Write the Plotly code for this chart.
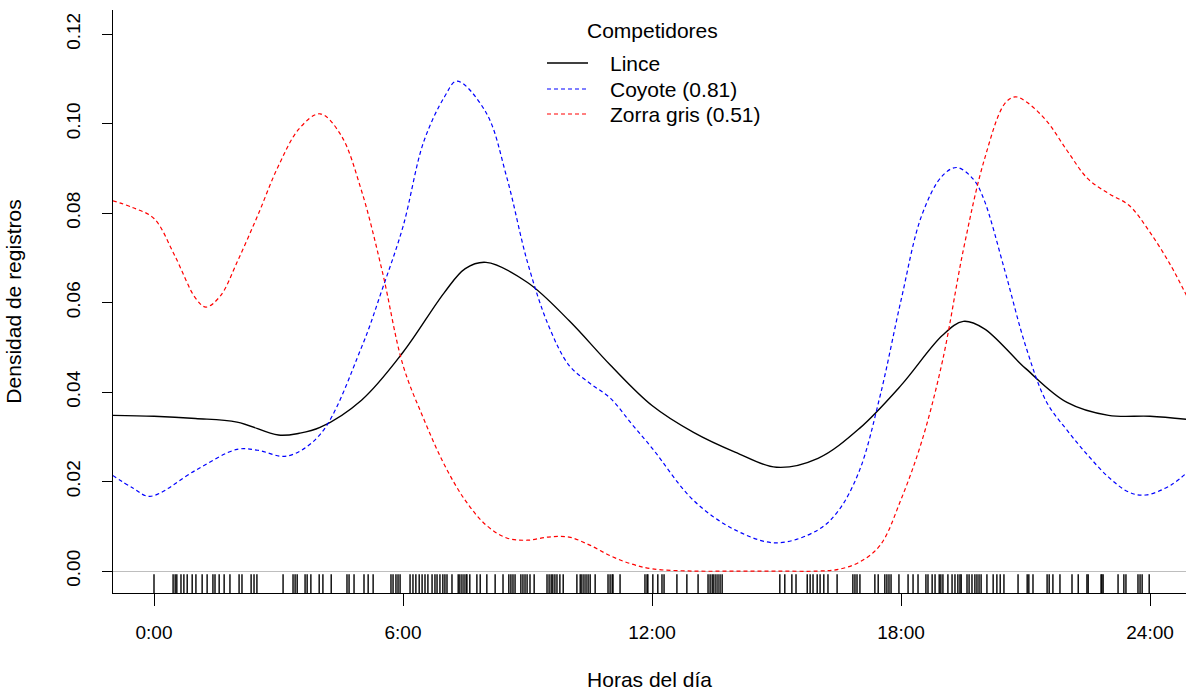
import plotly.graph_objects as go

# ---- data (hours of day, density) ----
hours_lince = [-1, 0, 1, 2, 3, 3.5, 4, 5, 6, 7, 7.5, 8, 9, 10, 11, 12, 13, 14, 15, 16, 17, 18, 19, 19.5, 20, 21, 22, 23, 24, 24.9]
dens_lince = [0.0348, 0.0346, 0.0341, 0.0333, 0.0304, 0.0308, 0.0321, 0.0382, 0.0489, 0.0623, 0.0676, 0.0690, 0.0645, 0.0560, 0.0460, 0.0370, 0.0310, 0.0266, 0.0232, 0.0252, 0.0319, 0.0415, 0.0527, 0.0558, 0.0542, 0.0453, 0.0377, 0.0348, 0.0346, 0.0339]

hours_coyote = [-1, -0.5, -0.1, 1, 2, 2.5, 3.2, 4, 5, 5.5, 6, 6.5, 7, 7.3, 8, 8.5, 9, 9.5, 10, 10.5, 11, 11.5, 12, 13, 14, 15, 16, 16.5, 17, 17.5, 18, 18.5, 19, 19.35, 19.75, 20, 20.5, 21, 21.5, 22, 22.5, 23, 23.5, 23.9, 24.5, 24.9]
dens_coyote = [0.0214, 0.0185, 0.0167, 0.0225, 0.0272, 0.0270, 0.0257, 0.0305, 0.0500, 0.0630, 0.0770, 0.0960, 0.1060, 0.1095, 0.1025, 0.0880, 0.0690, 0.0550, 0.0460, 0.0420, 0.0386, 0.0330, 0.0275, 0.0158, 0.0092, 0.0063, 0.0092, 0.0136, 0.0225, 0.0393, 0.0605, 0.0795, 0.0884, 0.0902, 0.0875, 0.0830, 0.0672, 0.0504, 0.0379, 0.0315, 0.0259, 0.0210, 0.0176, 0.0170, 0.0192, 0.0221]

hours_zorra = [-1, -0.5, 0, 0.5, 1, 1.25, 1.6, 2, 2.5, 3, 3.5, 4, 4.5, 5, 5.5, 6, 6.5, 7, 7.5, 8, 8.5, 9, 9.5, 10, 10.5, 11, 11.5, 12, 13, 14, 15, 16, 16.5, 17, 17.5, 18, 18.5, 19, 19.5, 20, 20.5, 20.75, 21, 21.5, 22, 22.5, 23, 23.5, 24, 24.5, 24.9]
dens_zorra = [0.0828, 0.0812, 0.0788, 0.0705, 0.0610, 0.0590, 0.0615, 0.0690, 0.0795, 0.0906, 0.0989, 0.1022, 0.0975, 0.0850, 0.0670, 0.0460, 0.0340, 0.0237, 0.0158, 0.0103, 0.0074, 0.0069, 0.0076, 0.0076, 0.0058, 0.0034, 0.0016, 0.0005, 0.0, 0.0, 0.0, 0.0, 0.0004, 0.0020, 0.0058, 0.0160, 0.0290, 0.0470, 0.0717, 0.0917, 0.1045, 0.1060, 0.1050, 0.1007, 0.0940, 0.0877, 0.0844, 0.0817, 0.0757, 0.0683, 0.0612]

# rug: individual record times (hours)
rug_times = [
    0.00, 0.46, 0.51, 0.55, 0.65, 0.72, 0.80, 0.92, 1.01, 1.16, 1.28, 1.42, 1.47, 1.57, 1.69, 1.83,
    2.05, 2.12, 2.34, 2.41, 2.48, 3.11, 3.35, 3.40, 3.45, 3.64, 3.69, 3.78, 3.98, 4.07, 4.27, 4.65,
    4.70, 4.82, 5.06, 5.16, 5.28, 5.71, 5.76, 5.83, 5.88, 5.93, 6.17, 6.24, 6.31, 6.39, 6.46, 6.53,
    6.60, 6.70, 6.77, 6.82, 6.89, 6.96, 7.01, 7.06, 7.18, 7.33, 7.37, 7.42, 7.47, 7.52, 7.54, 7.61,
    7.78, 7.86, 8.02, 8.22, 8.41, 8.55, 8.60, 8.65, 8.70, 8.84, 8.89, 8.94, 8.99, 9.06, 9.16, 9.47,
    9.52, 9.57, 9.61, 9.66, 9.71, 9.78, 9.86, 10.19, 10.27, 10.31, 10.36, 10.41, 10.46, 10.51, 10.63,
    10.94, 10.99, 11.04, 11.06, 11.23, 11.83, 11.88, 11.90, 12.02, 12.14, 12.24, 12.29, 12.60, 12.84,
    13.11, 13.35, 13.40, 13.45, 13.49, 13.54, 13.59, 13.64, 13.69, 15.08, 15.20, 15.37, 15.47, 15.74,
    15.81, 15.88, 15.98, 16.05, 16.14, 16.24, 16.46, 16.84, 16.89, 16.94, 17.01, 17.37, 17.45, 17.61,
    17.66, 17.71, 17.76, 17.95, 18.17, 18.29, 18.41, 18.60, 18.65, 18.75, 18.82, 18.92, 18.96, 19.01,
    19.13, 19.23, 19.30, 19.37, 19.42, 19.45, 19.59, 19.64, 19.71, 19.78, 19.83, 19.88, 19.93, 20.07,
    20.22, 20.31, 20.39, 20.48, 20.82, 21.04, 21.08, 21.18, 21.52, 21.57, 21.66, 21.83, 22.12, 22.27,
    22.48, 22.51, 22.82, 22.84, 22.87, 23.23, 23.37, 23.42, 23.71, 23.76, 23.81, 23.98,
]

tick_hours = [0, 6, 12, 18, 24]
tick_labels = ["0:00", "6:00", "12:00", "18:00", "24:00"]
y_ticks = [0.0, 0.02, 0.04, 0.06, 0.08, 0.10, 0.12]

legend_title = "Competidores"
legend_names = ["Lince", "Coyote (0.81)", "Zorra gris (0.51)"]

# ---- styling ----
FONT = "Liberation Sans, Arial, sans-serif"
Y_MIN, Y_MAX = -0.0049, 0.1254
X_MIN, X_MAX = -0.988, 24.867
RUG_TOP = -0.0007

fig = go.Figure()

# rug
rx, ry = [], []
for t in rug_times:
    rx += [t, t, None]
    ry += [Y_MIN, RUG_TOP, None]
fig.add_trace(go.Scatter(x=rx, y=ry, mode="lines", line=dict(color="#000000", width=1.4),
                         hoverinfo="skip", showlegend=False))

styles = [
    dict(color="#000000", width=1.4, dash="solid"),
    dict(color="#0000ff", width=1.2, dash="4px,3px"),
    dict(color="#ff0000", width=1.2, dash="4px,3px"),
]
series = [(hours_lince, dens_lince), (hours_coyote, dens_coyote), (hours_zorra, dens_zorra)]
for (hx, hy), st, nm in zip(series, styles, legend_names):
    fig.add_trace(go.Scatter(x=hx, y=hy, mode="lines", name=nm,
                             line=dict(shape="spline", smoothing=1.0, **st), showlegend=False))

# manual legend (R style)
PLOT_L, PLOT_R, PLOT_T, PLOT_B = 113, 1186, 10, 593
def px(xp):
    return (xp - PLOT_L) / (PLOT_R - PLOT_L)
def py(yp):
    return (PLOT_B - yp) / (PLOT_B - PLOT_T)

fig.add_annotation(x=px(652), y=py(31), xref="paper", yref="paper", text=legend_title,
                   showarrow=False, xanchor="center", yanchor="middle",
                   font=dict(family=FONT, size=21, color="#000"))
rows = [63, 89, 114]
for nm, st, r in zip(legend_names, styles, rows):
    fig.add_shape(type="line", xref="paper", yref="paper", x0=px(547), x1=px(588), y0=py(r), y1=py(r),
                  line=dict(color=st["color"], width=st["width"], dash=st["dash"]))
    fig.add_annotation(x=px(608), y=py(r), xref="paper", yref="paper", text=nm, showarrow=False,
                       xanchor="left", yanchor="middle", font=dict(family=FONT, size=21, color="#000"))

fig.update_layout(
    width=1186, height=696,
    margin=dict(l=PLOT_L, r=0, t=PLOT_T, b=696 - PLOT_B),
    paper_bgcolor="white", plot_bgcolor="white",
    font=dict(family=FONT, size=19, color="#000"),
    showlegend=False,
)
fig.update_xaxes(
    range=[X_MIN, X_MAX], tickvals=tick_hours, ticktext=tick_labels,
    showgrid=False, zeroline=False, showline=True, linecolor="#000", linewidth=1,
    ticks="outside", ticklen=12, tickcolor="#000", tickwidth=1,
    ticklabelstandoff=10,
    tickfont=dict(family=FONT, size=19),
    title=dict(text="Horas del día", font=dict(family=FONT, size=21), standoff=30),
    automargin=False,
)
fig.update_yaxes(
    range=[Y_MIN, Y_MAX], tickvals=y_ticks, tickformat=".2f",
    showgrid=False, zeroline=True, zerolinecolor="#bebebe", zerolinewidth=1,
    showline=True, linecolor="#000", linewidth=1,
    ticks="outside", ticklen=10, tickcolor="#000", tickwidth=1, tickangle=-90,
    ticklabelstandoff=14,
    tickfont=dict(family=FONT, size=19),
    title=dict(text="Densidad de registros", font=dict(family=FONT, size=21), standoff=36),
    automargin=False,
)

fig.write_html("out.html")
